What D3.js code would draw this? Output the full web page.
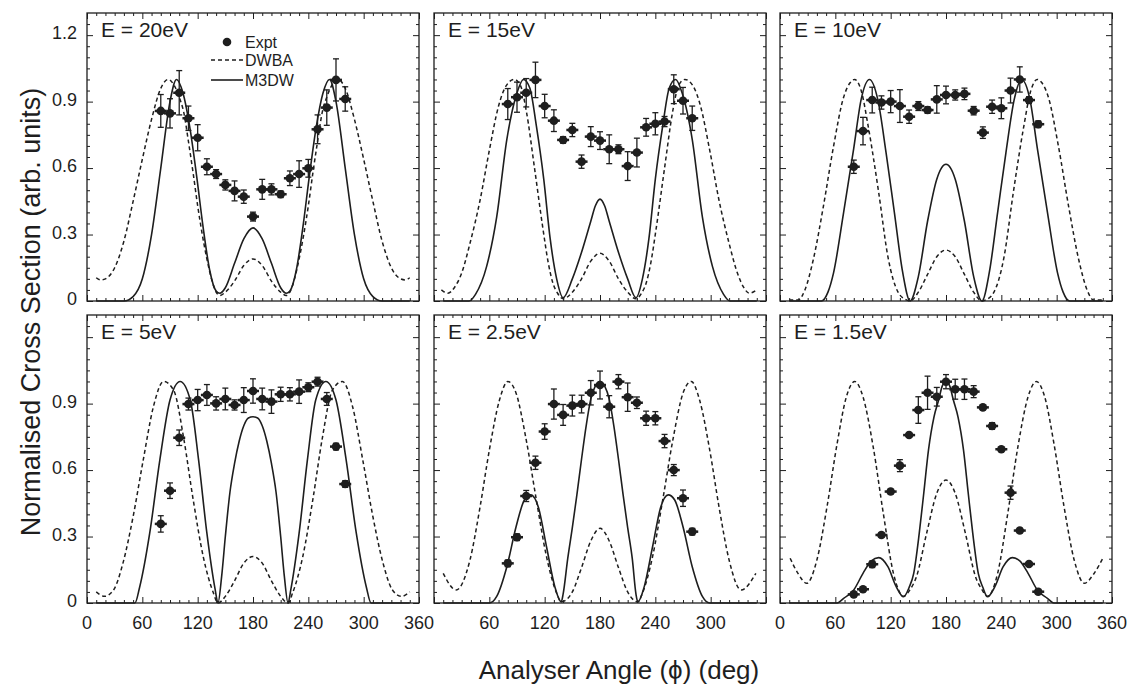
<!DOCTYPE html>
<html>
<head>
<meta charset="utf-8">
<script src="https://cdn.jsdelivr.net/npm/d3@7"></script>
<style>
  body { margin: 0; background: #fff; }
  text { font-family: "Liberation Sans", Arial, Helvetica, sans-serif; fill: #1e1e1e; }
</style>
</head>
<body>
<svg id="chart" width="1129" height="688"></svg>
<script>
// ---- data ----
const energies = ["E = 20eV", "E = 15eV", "E = 10eV", "E = 5eV", "E = 2.5eV", "E = 1.5eV"];

const exptAngles = [80, 90, 100, 110, 120, 130, 140, 150, 160, 170, 180, 190, 200, 210, 220, 230, 240, 250, 260, 270, 280];

const expt20 = [0.858, 0.847, 0.940, 0.825, 0.737, 0.606, 0.573, 0.524, 0.497, 0.471, 0.381, 0.504, 0.504, 0.482, 0.554, 0.573, 0.599, 0.775, 0.873, 0.998, 0.912];
const err20  = [0.074, 0.066, 0.100, 0.055, 0.059, 0.036, 0.020, 0.023, 0.045, 0.030, 0.020, 0.045, 0.025, 0.015, 0.033, 0.060, 0.040, 0.065, 0.080, 0.095, 0.055];
const expt15 = [0.889, 0.920, 0.940, 0.998, 0.880, 0.814, 0.727, 0.772, 0.629, 0.742, 0.724, 0.685, 0.685, 0.609, 0.670, 0.784, 0.800, 0.810, 0.956, 0.904, 0.825];
const err15  = [0.070, 0.068, 0.064, 0.080, 0.053, 0.049, 0.015, 0.030, 0.030, 0.045, 0.040, 0.065, 0.020, 0.065, 0.065, 0.040, 0.050, 0.023, 0.065, 0.060, 0.055];
const expt10 = [0.606, 0.767, 0.907, 0.896, 0.900, 0.880, 0.832, 0.880, 0.862, 0.910, 0.930, 0.930, 0.935, 0.859, 0.760, 0.877, 0.870, 0.950, 1.000, 0.907, 0.798];
const err10  = [0.030, 0.062, 0.058, 0.030, 0.050, 0.074, 0.030, 0.020, 0.015, 0.062, 0.040, 0.023, 0.026, 0.019, 0.026, 0.030, 0.047, 0.056, 0.057, 0.015, 0.015];
const expt5  = [0.357, 0.507, 0.746, 0.898, 0.916, 0.939, 0.901, 0.921, 0.894, 0.916, 0.957, 0.921, 0.909, 0.942, 0.942, 0.954, 0.974, 0.999, 0.921, 0.706, 0.537];
const err5   = [0.037, 0.035, 0.035, 0.027, 0.048, 0.047, 0.030, 0.049, 0.023, 0.056, 0.055, 0.049, 0.053, 0.032, 0.030, 0.053, 0.020, 0.020, 0.029, 0.015, 0.015];
const expt2p5 = [0.179, 0.297, 0.483, 0.633, 0.774, 0.898, 0.849, 0.891, 0.898, 0.949, 0.984, 0.886, 0.999, 0.929, 0.904, 0.834, 0.834, 0.731, 0.600, 0.473, 0.322];
const err2p5  = [0.015, 0.015, 0.025, 0.030, 0.035, 0.068, 0.047, 0.047, 0.040, 0.055, 0.063, 0.050, 0.032, 0.064, 0.026, 0.032, 0.030, 0.030, 0.025, 0.037, 0.015];
const expt1p5 = [0.039, 0.062, 0.175, 0.307, 0.503, 0.620, 0.758, 0.871, 0.949, 0.931, 0.999, 0.965, 0.965, 0.954, 0.883, 0.799, 0.694, 0.498, 0.327, 0.176, 0.051];
const err1p5  = [0.010, 0.010, 0.015, 0.010, 0.010, 0.027, 0.010, 0.060, 0.075, 0.042, 0.032, 0.045, 0.046, 0.027, 0.010, 0.015, 0.010, 0.030, 0.010, 0.010, 0.010];

// theory curves: [angle, value]
const m3dw20 = [[10,0],[40,0],[50,0.02],[60,0.1],[70,0.3],[80,0.6],[90,0.9],[97,1.0],[104,0.94],[112,0.77],[119,0.56],[126,0.33],[133,0.14],[140,0.045],[144,0.035],[150,0.06],[160,0.17],[170,0.28],[180,0.33],[190,0.28],[200,0.17],[210,0.06],[216,0.035],[220,0.045],[227,0.14],[234,0.33],[241,0.56],[248,0.77],[256,0.94],[263,1.0],[270,0.9],[280,0.6],[290,0.3],[300,0.1],[310,0.02],[320,0],[350,0]];
const dwba20 = [[10,0.105],[15,0.095],[20,0.1],[30,0.15],[40,0.27],[50,0.45],[60,0.64],[70,0.82],[80,0.96],[88,1.0],[95,0.97],[100,0.92],[105,0.85],[110,0.72],[115,0.58],[120,0.43],[125,0.3],[130,0.19],[135,0.1],[140,0.04],[144,0.025],[150,0.04],[160,0.09],[170,0.16],[180,0.19],[190,0.16],[200,0.09],[210,0.04],[216,0.025],[220,0.04],[225,0.1],[230,0.19],[235,0.3],[240,0.43],[245,0.58],[250,0.72],[255,0.85],[260,0.92],[265,0.97],[272,1.0],[280,0.96],[290,0.82],[300,0.64],[310,0.45],[320,0.27],[330,0.15],[340,0.1],[345,0.095],[350,0.105]];

const m3dw15 = [[10,0],[38,0],[45,0.03],[57,0.155],[68,0.38],[79,0.73],[90,0.94],[97,1.0],[104,0.96],[111,0.79],[119,0.55],[126,0.28],[133,0.1],[140,0.015],[150,0.1],[160,0.22],[170,0.36],[175,0.43],[180,0.46],[185,0.43],[190,0.36],[200,0.22],[210,0.1],[219,0.015],[226,0.1],[233,0.28],[240,0.55],[248,0.79],[255,0.96],[262,1.0],[269,0.94],[280,0.73],[291,0.38],[302,0.155],[314,0.03],[321,0],[350,0]];
const dwba15 = [[8,0.05],[15,0.035],[22,0.06],[30,0.126],[39,0.26],[50,0.456],[60,0.68],[70,0.88],[78,0.97],[87,1.0],[94,0.97],[100,0.86],[109,0.6],[118,0.33],[124,0.17],[129,0.08],[134,0.035],[140,0.01],[150,0.04],[160,0.1],[170,0.18],[180,0.215],[190,0.18],[200,0.1],[210,0.04],[219,0.01],[225,0.035],[230,0.08],[235,0.17],[241,0.33],[250,0.6],[259,0.86],[265,0.97],[272,1.0],[281,0.97],[289,0.88],[299,0.68],[309,0.456],[320,0.26],[329,0.126],[336,0.06],[342,0.035],[350,0.05]];

const m3dw10 = [[10,0],[45,0],[52,0.04],[58,0.126],[69,0.4],[80,0.69],[88,0.91],[97,1.0],[106,0.91],[115,0.67],[124,0.4],[133,0.13],[141,0],[150,0.11],[160,0.36],[170,0.55],[175,0.6],[180,0.617],[185,0.6],[190,0.55],[200,0.36],[210,0.11],[219,0],[227,0.13],[236,0.4],[245,0.67],[254,0.91],[262,1.0],[271,0.91],[279,0.69],[290,0.4],[301,0.126],[307,0.04],[314,0],[350,0]];
const dwba10 = [[10,0.005],[20,0.005],[27,0.05],[36,0.185],[47,0.426],[58,0.697],[69,0.92],[76,0.985],[81,1.0],[88,0.95],[96,0.78],[107,0.49],[117,0.2],[128,0.04],[137,0.005],[141,0],[150,0.04],[160,0.12],[170,0.2],[180,0.23],[190,0.2],[200,0.12],[210,0.04],[219,0],[223,0.005],[232,0.04],[243,0.2],[253,0.49],[264,0.78],[272,0.95],[279,1.0],[284,0.985],[291,0.92],[302,0.697],[313,0.426],[324,0.185],[333,0.05],[340,0.005],[350,0.005]];

const m3dw5 = [[10,0],[52,0],[57,0.07],[68,0.315],[79,0.646],[90,0.916],[101,1.0],[112,0.916],[121,0.646],[130,0.315],[139,0.06],[142,0],[146,0.12],[150,0.3],[155,0.5],[160,0.63],[165,0.73],[170,0.8],[175,0.835],[180,0.841],[185,0.835],[190,0.8],[195,0.73],[200,0.63],[205,0.5],[210,0.3],[214,0.12],[218,0],[221,0.06],[230,0.315],[239,0.646],[248,0.916],[259,1.0],[270,0.916],[281,0.646],[292,0.315],[303,0.07],[308,0],[350,0]];
const dwba5 = [[10,0.05],[19,0.03],[29,0.06],[39,0.18],[50,0.39],[61,0.646],[72,0.886],[83,1.0],[94,0.96],[105,0.74],[115,0.47],[126,0.21],[137,0.046],[142,0],[150,0.03],[160,0.1],[170,0.18],[180,0.21],[190,0.18],[200,0.1],[210,0.03],[218,0],[223,0.046],[234,0.21],[245,0.47],[255,0.74],[266,0.96],[277,1.0],[288,0.886],[299,0.646],[310,0.39],[321,0.18],[331,0.06],[341,0.03],[350,0.05]];

const m3dw2p5 = [[10,0],[60,0],[68,0.03],[79,0.164],[89,0.344],[98,0.465],[105,0.488],[113,0.435],[122,0.254],[131,0.074],[138,0.005],[140,0.04],[145,0.2],[150,0.34],[155,0.49],[160,0.65],[165,0.8],[170,0.92],[175,0.98],[180,1.0],[185,0.98],[190,0.92],[195,0.8],[200,0.65],[205,0.49],[210,0.34],[215,0.2],[219,0.04],[221,0.005],[228,0.074],[237,0.254],[246,0.435],[254,0.488],[261,0.465],[270,0.344],[280,0.164],[291,0.03],[299,0],[350,0]];
const dwba2p5 = [[10,0.134],[24,0.059],[39,0.194],[50,0.435],[60,0.69],[71,0.916],[80,1.0],[89,0.947],[100,0.736],[111,0.465],[122,0.209],[133,0.044],[138,0.005],[150,0.05],[160,0.16],[170,0.28],[180,0.337],[190,0.28],[200,0.16],[210,0.05],[221,0.005],[226,0.044],[237,0.209],[248,0.465],[259,0.736],[270,0.947],[279,1.0],[288,0.916],[299,0.69],[309,0.435],[320,0.194],[333,0.059],[349,0.134]];

const m3dw1p5 = [[10,0],[62,0],[69,0.021],[80,0.059],[90,0.134],[99,0.19],[107,0.205],[117,0.164],[126,0.074],[134,0.028],[140,0.07],[145,0.134],[151,0.315],[156,0.5],[161,0.69],[167,0.84],[172,0.916],[176,0.98],[180,1.0],[184,0.98],[188,0.916],[193,0.84],[199,0.69],[204,0.5],[209,0.315],[215,0.134],[220,0.07],[225,0.028],[233,0.074],[242,0.164],[252,0.205],[260,0.19],[269,0.134],[279,0.059],[290,0.021],[297,0],[350,0]];
const dwba1p5 = [[11,0.202],[20,0.13],[29,0.089],[40,0.194],[51,0.435],[62,0.721],[72,0.931],[81,1.0],[90,0.931],[101,0.706],[112,0.405],[123,0.134],[134,0.03],[141,0.06],[148,0.119],[159,0.315],[170,0.495],[180,0.555],[190,0.495],[201,0.315],[212,0.119],[219,0.06],[225,0.03],[236,0.134],[247,0.405],[258,0.706],[269,0.931],[278,1.0],[287,0.931],[297,0.721],[308,0.435],[319,0.194],[330,0.089],[340,0.13],[350,0.202]];

// ticks
const xMajor = [0, 60, 120, 180, 240, 300, 360];
const xMinor = [10, 20, 30, 40, 50, 70, 80, 90, 100, 110, 130, 140, 150, 160, 170, 190, 200, 210, 220, 230, 250, 260, 270, 280, 290, 310, 320, 330, 340, 350];
const yMajor = [0, 0.3, 0.6, 0.9, 1.2];
const yMinor = [0.05, 0.1, 0.15, 0.2, 0.25, 0.35, 0.4, 0.45, 0.5, 0.55, 0.65, 0.7, 0.75, 0.8, 0.85, 0.95, 1.0, 1.05, 1.1, 1.15, 1.25];
const yLabelsTop = [0, 0.3, 0.6, 0.9, 1.2];
const yLabelsBottom = [0, 0.3, 0.6, 0.9];
const xLabelsFull = [0, 60, 120, 180, 240, 300, 360];
const xLabelsMid = [60, 120, 180, 240, 300];

const panels = [
  { label: energies[0], expt: expt20, err: err20, m3dw: m3dw20, dwba: dwba20, xl: [], yl: yLabelsTop },
  { label: energies[1], expt: expt15, err: err15, m3dw: m3dw15, dwba: dwba15, xl: [], yl: [] },
  { label: energies[2], expt: expt10, err: err10, m3dw: m3dw10, dwba: dwba10, xl: [], yl: [] },
  { label: energies[3], expt: expt5, err: err5, m3dw: m3dw5, dwba: dwba5, xl: xLabelsFull, yl: yLabelsBottom },
  { label: energies[4], expt: expt2p5, err: err2p5, m3dw: m3dw2p5, dwba: dwba2p5, xl: xLabelsMid, yl: [] },
  { label: energies[5], expt: expt1p5, err: err1p5, m3dw: m3dw1p5, dwba: dwba1p5, xl: xLabelsFull, yl: [] }
];

// ---- layout ----
const pw = 332, ph = 288;
const colX = [87, 434, 780];
const rowY = [13, 315];
const ink = "#1e1e1e";

const svg = d3.select("#chart");

const x = d3.scaleLinear().domain([0, 360]).range([0, pw]);
const y = d3.scaleLinear().domain([0, 1.3]).range([ph, 0]);

const line = d3.line()
  .x(d => x(d[0]))
  .y(d => y(d[1]))
  .curve(d3.curveMonotoneX);

function tickSet(g, axis, vals, size, tr) {
  g.append("g")
    .attr("transform", tr)
    .call(axis.tickValues(vals).tickSize(-size).tickFormat(""))
    .call(a => a.select(".domain").remove())
    .call(a => a.selectAll("line").attr("stroke", ink).attr("stroke-width", 1));
}

panels.forEach((p, i) => {
  const g = svg.append("g")
    .attr("transform", "translate(" + colX[i % 3] + "," + rowY[Math.floor(i / 3)] + ")");

  // inward ticks on all four sides
  tickSet(g, d3.axisBottom(x), xMajor, 6, "translate(0," + ph + ")");
  tickSet(g, d3.axisBottom(x), xMinor, 3, "translate(0," + ph + ")");
  tickSet(g, d3.axisTop(x), xMajor, 6, "translate(0,0)");
  tickSet(g, d3.axisTop(x), xMinor, 3, "translate(0,0)");
  tickSet(g, d3.axisLeft(y), yMajor, 6, "translate(0,0)");
  tickSet(g, d3.axisLeft(y), yMinor, 3, "translate(0,0)");
  tickSet(g, d3.axisRight(y), yMajor, 6, "translate(" + pw + ",0)");
  tickSet(g, d3.axisRight(y), yMinor, 3, "translate(" + pw + ",0)");

  g.append("rect")
    .attr("width", pw).attr("height", ph)
    .attr("fill", "none").attr("stroke", ink).attr("stroke-width", 1.3);

  // theory curves
  g.append("path").datum(p.dwba)
    .attr("d", line).attr("fill", "none")
    .attr("stroke", ink).attr("stroke-width", 1.5)
    .attr("stroke-dasharray", "4,3");
  g.append("path").datum(p.m3dw)
    .attr("d", line).attr("fill", "none")
    .attr("stroke", ink).attr("stroke-width", 1.6);

  // experiment with error bars
  const pts = exptAngles.map((a, k) => ({ a: a, v: p.expt[k], e: p.err[k] }));
  const ex = g.append("g").selectAll("g").data(pts).enter().append("g");
  ex.append("line")
    .attr("x1", d => x(d.a)).attr("x2", d => x(d.a))
    .attr("y1", d => y(d.v - d.e)).attr("y2", d => y(d.v + d.e))
    .attr("stroke", ink).attr("stroke-width", 1.3);
  [-1, 1].forEach(s => {
    ex.append("line")
      .attr("x1", d => x(d.a) - 3).attr("x2", d => x(d.a) + 3)
      .attr("y1", d => y(d.v + s * d.e)).attr("y2", d => y(d.v + s * d.e))
      .attr("stroke", ink).attr("stroke-width", 1.3);
  });
  ex.append("line")
    .attr("x1", d => x(d.a) - 6).attr("x2", d => x(d.a) + 6)
    .attr("y1", d => y(d.v)).attr("y2", d => y(d.v))
    .attr("stroke", ink).attr("stroke-width", 2.5);
  ex.append("circle")
    .attr("cx", d => x(d.a)).attr("cy", d => y(d.v))
    .attr("r", 4.3).attr("fill", ink);

  // energy label
  g.append("text")
    .attr("x", 14).attr("y", 24)
    .style("font-size", "21px")
    .text(p.label);

  // tick labels
  g.selectAll(".xl").data(p.xl).enter().append("text")
    .attr("x", d => x(d)).attr("y", ph + 26)
    .attr("text-anchor", "middle")
    .style("font-size", "18px")
    .text(d => d);
  g.selectAll(".yl").data(p.yl).enter().append("text")
    .attr("x", -10).attr("y", d => y(d) + 4)
    .attr("text-anchor", "end")
    .style("font-size", "18px")
    .text(d => d === 0 ? "0" : d3.format(".1f")(d));
});

// legend (first panel)
const lg = svg.append("g").attr("transform", "translate(" + colX[0] + "," + rowY[0] + ")");
lg.append("circle").attr("cx", 140).attr("cy", 29).attr("r", 4.3).attr("fill", ink);
lg.append("text").attr("x", 158).attr("y", 35).style("font-size", "16px").text("Expt");
lg.append("line").attr("x1", 124).attr("x2", 156).attr("y1", 47).attr("y2", 47)
  .attr("stroke", ink).attr("stroke-width", 1.5).attr("stroke-dasharray", "4,3");
lg.append("text").attr("x", 158).attr("y", 53).style("font-size", "16px").text("DWBA");
lg.append("line").attr("x1", 124).attr("x2", 156).attr("y1", 67).attr("y2", 67)
  .attr("stroke", ink).attr("stroke-width", 1.6);
lg.append("text").attr("x", 158).attr("y", 73).style("font-size", "16px").text("M3DW");

// axis titles
svg.append("text")
  .attr("x", 619).attr("y", 679)
  .attr("text-anchor", "middle")
  .style("font-size", "26px")
  .text("Analyser Angle (\u03d5) (deg)");

svg.append("text")
  .attr("transform", "translate(40,312) rotate(-90)")
  .attr("text-anchor", "middle")
  .style("font-size", "27px")
  .text("Normalised Cross Section (arb. units)");
</script>
</body>
</html>
